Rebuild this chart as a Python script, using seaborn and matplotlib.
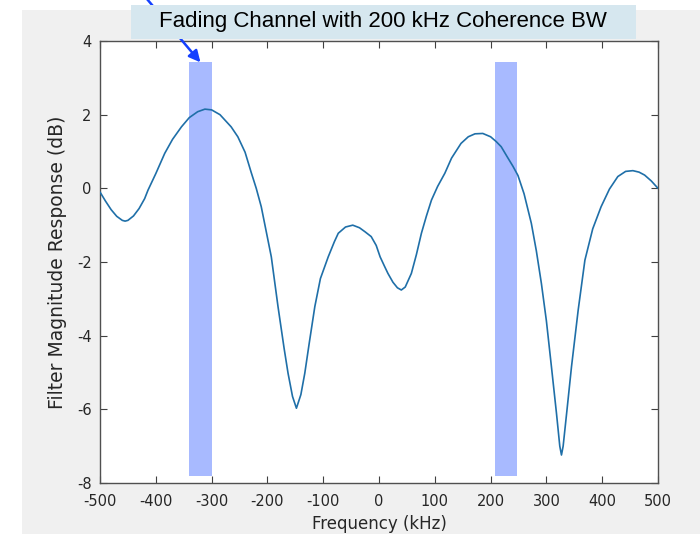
import numpy as np
import pandas as pd
import seaborn as sns
import matplotlib
matplotlib.use("Agg")
import matplotlib.pyplot as plt
from matplotlib.patches import Rectangle

# Filter magnitude response of the fading channel (kHz, dB)
freq_khz = [-500, -490, -480, -470, -460, -455, -450, -440, -430, -420,
            -414, -400, -384, -370, -354, -340, -325, -312, -300, -285,
            -265, -253, -240, -229, -220, -211, -200, -193, -181, -170,
            -163, -155, -148, -140, -133, -125, -115, -105, -91, -80,
            -73, -60, -47, -35, -25, -14, -5, 2, 10, 16,
            25, 33, 40, 47, 58, 67, 76, 85, 94, 105,
            118, 130, 147, 160, 172, 186, 200, 210, 219, 230,
            240, 249, 260, 273, 282, 291, 300, 309, 318, 324,
            327, 330, 337, 345, 357, 369, 383, 398, 413, 428,
            442, 455, 466, 476, 488, 500]
response_db = [-0.10, -0.35, -0.58, -0.76, -0.87, -0.89, -0.87, -0.75, -0.55, -0.28,
               -0.05, 0.40, 0.95, 1.33, 1.67, 1.92, 2.08, 2.15, 2.13, 2.00,
               1.67, 1.40, 0.98, 0.43, 0.00, -0.50, -1.33, -1.86, -3.21, -4.35,
               -5.02, -5.65, -5.97, -5.60, -5.02, -4.20, -3.21, -2.45, -1.86, -1.45,
               -1.22, -1.05, -1.00, -1.07, -1.18, -1.31, -1.55, -1.86, -2.12, -2.31,
               -2.55, -2.70, -2.76, -2.68, -2.31, -1.80, -1.22, -0.75, -0.32, 0.05,
               0.41, 0.82, 1.22, 1.40, 1.48, 1.49, 1.40, 1.27, 1.13, 0.85,
               0.60, 0.35, -0.15, -0.95, -1.70, -2.58, -3.60, -4.84, -6.10, -7.00,
               -7.24, -7.00, -6.00, -4.84, -3.30, -1.95, -1.10, -0.50, -0.02, 0.32,
               0.46, 0.48, 0.44, 0.36, 0.20, 0.00]

# Highlighted 40 kHz signal bands
band_lo = [-340, 208]
band_hi = [-300, 248]
band_floor = -7.8
band_top = 3.42

x_ticks = [-500, -400, -300, -200, -100, 0, 100, 200, 300, 400, 500]
y_ticks = [-8, -6, -4, -2, 0, 2, 4]

title_text = "Fading Channel with 200 kHz Coherence BW"

sns.set_theme(style="white")
plt.rcParams["font.family"] = ["DejaVu Sans"]
plt.rcParams["axes.unicode_minus"] = False

W, H = 700, 534
fig = plt.figure(figsize=(W / 100, H / 100), dpi=100, facecolor="white")

# grey window background
fig.patches.append(Rectangle((22 / W, 0), 1 - 22 / W, (H - 10) / H,
                             transform=fig.transFigure, facecolor="#f0f0f0",
                             edgecolor="none", zorder=-5))

ax = fig.add_axes([100 / W, 1 - 483 / H, 558 / W, 442 / H])
ax.set_facecolor("white")

lo = np.array(band_lo, dtype=float)
hi = np.array(band_hi, dtype=float)
ax.bar((lo + hi) / 2, band_top - band_floor, width=hi - lo, bottom=band_floor,
       color="#a8baff", edgecolor="none", zorder=1)

df = pd.DataFrame({"Frequency (kHz)": freq_khz, "Response (dB)": response_db})
sns.lineplot(data=df, x="Frequency (kHz)", y="Response (dB)", ax=ax,
             color="#1f6fa8", linewidth=1.2, zorder=3)

ax.set_xlim(-500, 500)
ax.set_ylim(-8, 4)
ax.set_xticks(x_ticks)
ax.set_yticks(y_ticks)
ax.set_xticklabels([str(v) for v in x_ticks])
ax.set_yticklabels([str(v) for v in y_ticks])
ax.tick_params(direction="in", length=5, width=0.8, color="#404040",
               labelcolor="#262626", labelsize=10.5, top=True, right=True,
               bottom=True, left=True)
ax.tick_params(axis="x", pad=8)
ax.tick_params(axis="y", pad=6)
for s in ax.spines.values():
    s.set_visible(True)
    s.set_color("#505050")
    s.set_linewidth(1.0)

ax.set_xlabel("Frequency (kHz)", fontsize=12, color="#262626", labelpad=4.5)
ax.set_ylabel("Filter Magnitude Response (dB)", fontsize=13.5, color="#262626",
              labelpad=7)

# arrow pointing at the first band
ax.annotate("", xy=(-320, band_top), xycoords="data",
            xytext=(136, H + 14), textcoords="figure pixels",
            arrowprops=dict(arrowstyle="-|>", color="#1440ff", lw=1.8,
                            mutation_scale=17, shrinkA=0, shrinkB=0),
            annotation_clip=False, zorder=4)

# title box
fig.patches.append(Rectangle((131 / W, 1 - 39 / H), 505 / W, 34 / H,
                             transform=fig.transFigure, facecolor="#d6e7ef",
                             edgecolor="none", zorder=5))
fig.text(383 / W, 1 - 22 / H, title_text, ha="center", va="center",
         fontsize=16, color="black", family=["Liberation Sans"], zorder=6)

fig.savefig("out.png", dpi=100, facecolor=fig.get_facecolor())
